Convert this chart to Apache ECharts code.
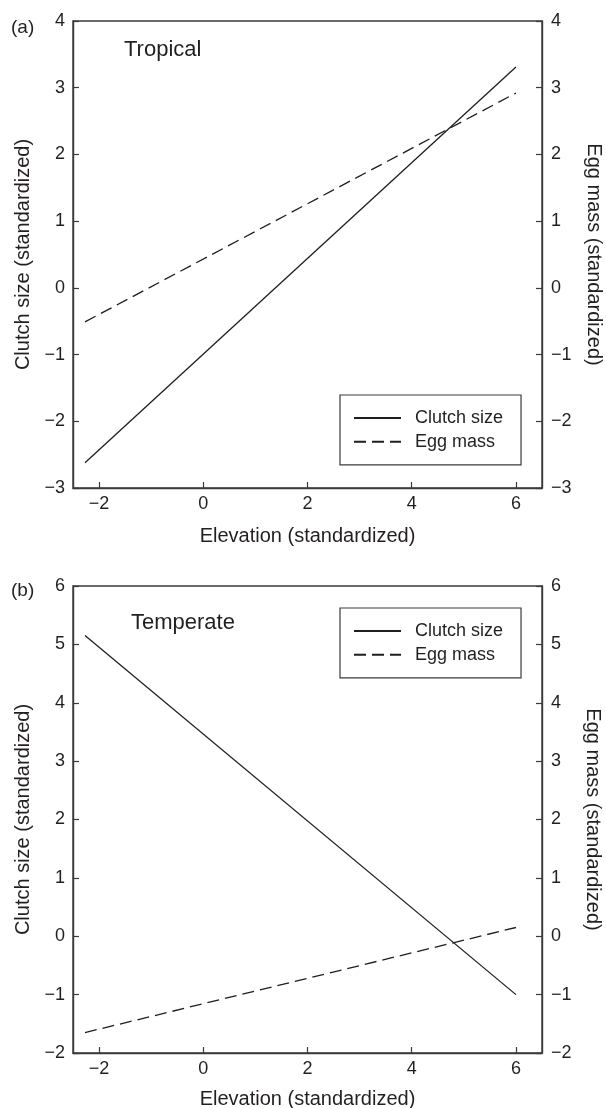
<!DOCTYPE html>
<html>
<head>
<meta charset="utf-8">
<script src="https://cdn.jsdelivr.net/npm/echarts@6/dist/echarts.min.js"></script>
<style>
  html, body { margin: 0; padding: 0; background: #fff; }
  #chart { width: 606px; height: 1108px; }
</style>
</head>
<body>
<div id="chart"></div>
<script>
// elevation at the two ends of each fitted line
const elevation = [-2.27, 6]
const xTicks = [-2, 0, 2, 4, 6]

// (a) tropical
const tropicalClutch = [-2.62, 3.31]
const tropicalEgg = [-0.51, 2.92]
// (b) temperate
const temperateClutch = [5.15, -1.0]
const temperateEgg = [-1.65, 0.15]

const FONT = 'Liberation Sans, Arial, Helvetica, sans-serif'
const INK = '#231f20'
const AXIS = '#3a3a3a'

const pair = (xs, ys) => xs.map((x, i) => [x, ys[i]])
const minus = (v) => (v < 0 ? '\u2212' + Math.abs(v) : String(v))

const panels = [
  { top: 21, min: -3, max: 4, xGap: 38, leftGap: 40, rightGap: 42 },
  { top: 586, min: -2, max: 6, xGap: 36, leftGap: 34, rightGap: 38 }
]

const grid = panels.map((p) => ({
  left: 73, right: 64, top: p.top, height: 467,
  outerBoundsMode: 'none', containLabel: false,
  show: true, borderColor: AXIS, borderWidth: 1.4, backgroundColor: 'transparent'
}))

const xAxis = panels.map((p, i) => ({
  type: 'value', gridIndex: i, min: -2.5, max: 6.5,
  name: 'Elevation (standardized)', nameLocation: 'middle', nameGap: p.xGap,
  nameTextStyle: { fontFamily: FONT, fontSize: 20, color: INK },
  axisLine: { show: true, onZero: false, lineStyle: { color: AXIS, width: 1.4 } },
  axisTick: { show: true, inside: true, length: 6, customValues: xTicks, lineStyle: { color: AXIS, width: 1.2 } },
  axisLabel: { customValues: xTicks, margin: 7, fontFamily: FONT, fontSize: 18, color: INK, formatter: minus },
  splitLine: { show: false }
}))

const yAxis = []
panels.forEach((p, i) => {
  const common = {
    type: 'value', gridIndex: i, min: p.min, max: p.max, interval: 1,
    nameLocation: 'middle',
    axisLine: { show: true, onZero: false, lineStyle: { color: AXIS, width: 1.4 } },
    axisTick: { show: true, inside: true, length: 6, lineStyle: { color: AXIS, width: 1.2 } },
    splitLine: { show: false }
  }
  yAxis.push({
    ...common, position: 'left',
    name: 'Clutch size (standardized)', nameGap: p.leftGap, nameRotate: 90,
    nameTextStyle: { fontFamily: FONT, fontSize: 20, color: INK },
    axisLabel: { margin: 8, fontFamily: FONT, fontSize: 18, color: INK, formatter: minus }
  })
  yAxis.push({
    ...common, position: 'right',
    name: 'Egg mass (standardized)', nameGap: p.rightGap, nameRotate: -90,
    nameTextStyle: { fontFamily: FONT, fontSize: 20, color: INK },
    axisLabel: { margin: 9, fontFamily: FONT, fontSize: 18, color: INK, formatter: minus }
  })
})

const lineSeries = (name, data, gi, yi, dashed) => ({
  name, type: 'line', xAxisIndex: gi, yAxisIndex: yi,
  data, symbol: 'none', silent: true,
  lineStyle: { color: '#1e1e1e', width: 1.3, type: dashed ? [12, 6] : 'solid' },
  itemStyle: { color: '#1e1e1e' }
})

const series = [
  lineSeries('Clutch size', pair(elevation, tropicalClutch), 0, 0, false),
  lineSeries('Egg mass', pair(elevation, tropicalEgg), 0, 1, true),
  lineSeries('Clutch size', pair(elevation, temperateClutch), 1, 2, false),
  lineSeries('Egg mass', pair(elevation, temperateEgg), 1, 3, true)
]

const legendBox = (top) => ({
  left: 340, top, orient: 'vertical',
  data: ['Clutch size', 'Egg mass'],
  itemWidth: 47, itemHeight: 14, itemGap: 5.8,
  padding: [14, 18, 14, 13],
  borderColor: AXIS, borderWidth: 1.2,
  itemStyle: { opacity: 0 },
  textStyle: { fontFamily: FONT, fontSize: 18, color: INK, padding: [0, 0, 0, 9] }
})

const labelText = (text, left, top, size) => ({
  text, left, top,
  textStyle: { fontFamily: FONT, fontSize: size, fontWeight: 'normal', color: INK }
})

const option = {
  animation: false,
  backgroundColor: '#fff',
  title: [
    labelText('(a)', 6, 13, 19),
    labelText('Tropical', 119, 34, 22),
    labelText('(b)', 6, 576, 19),
    labelText('Temperate', 126, 607, 22)
  ],
  legend: [legendBox(395), legendBox(608)],
  grid, xAxis, yAxis, series
}

const myChart = echarts.init(document.getElementById('chart'), null, { renderer: 'canvas' })
option && myChart.setOption(option)
</script>
</body>
</html>
